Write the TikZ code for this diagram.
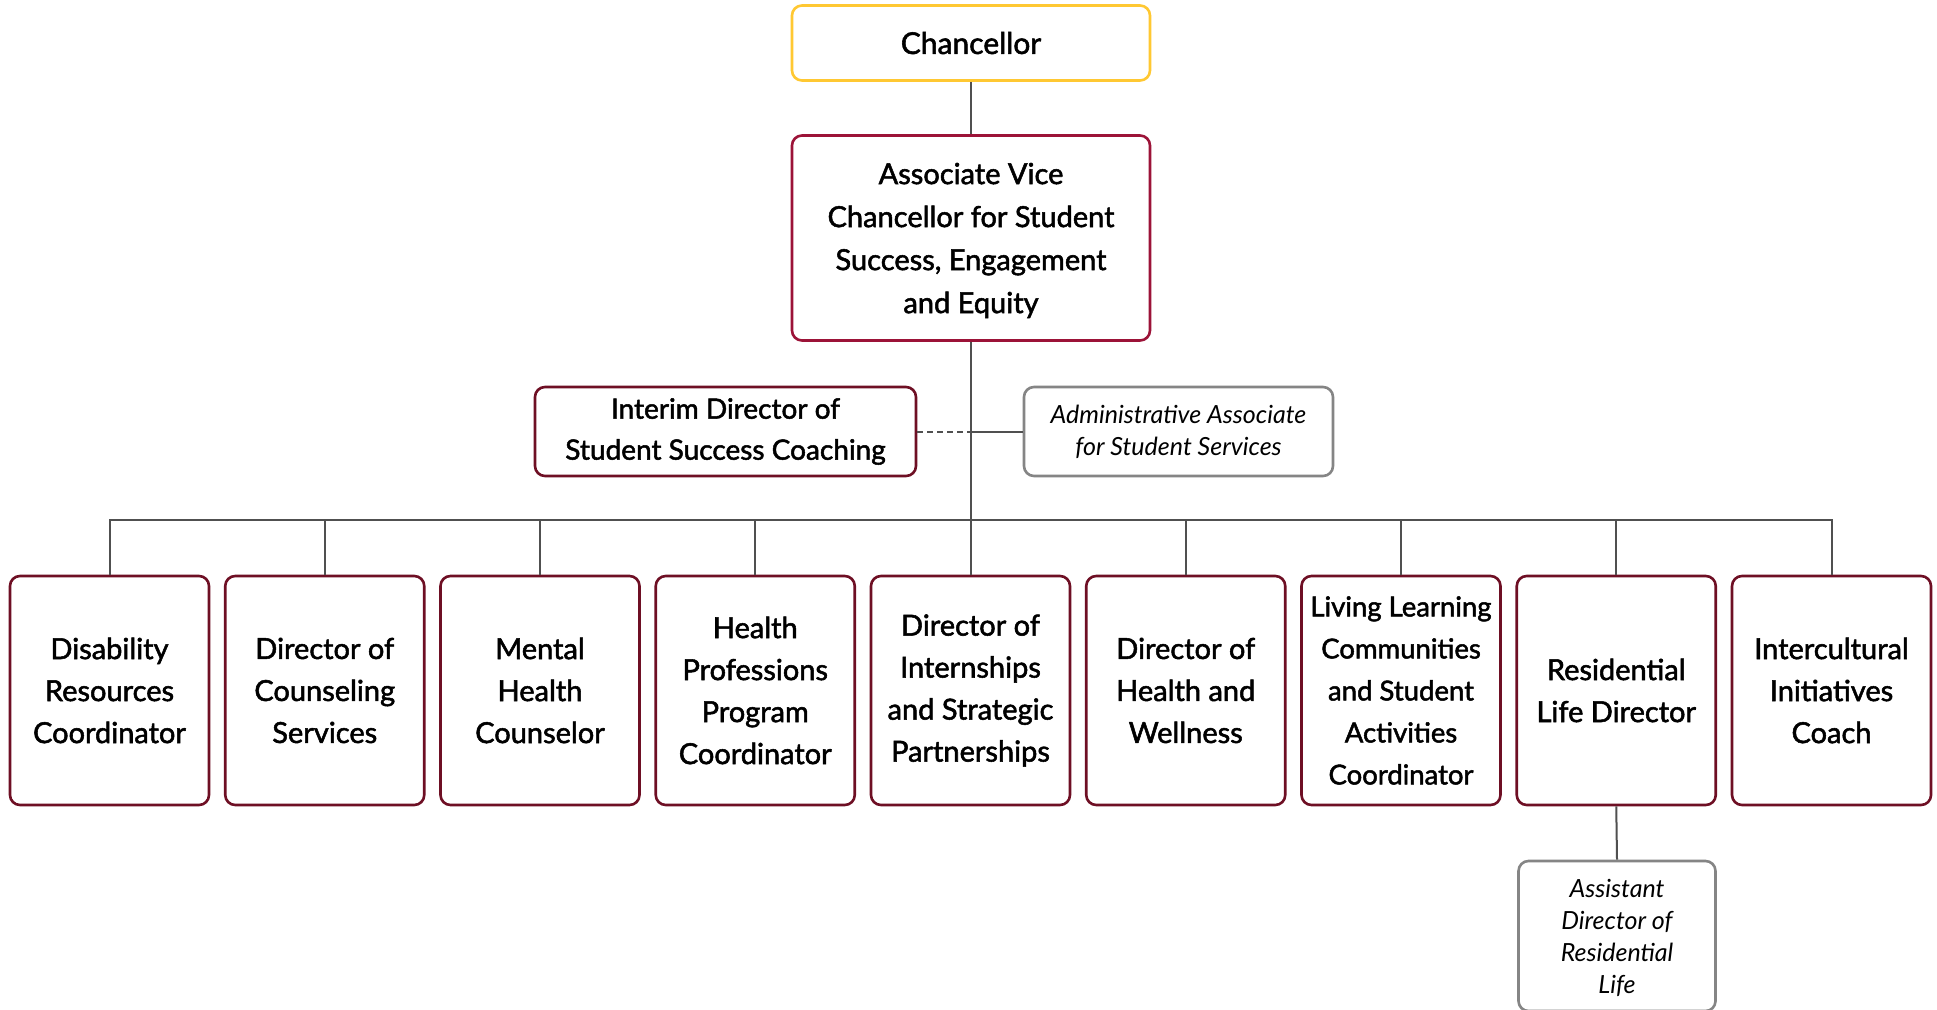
\documentclass[tikz,border=0pt]{standalone}
\usepackage{fontspec}
\setmainfont{Lato}
\newfontfamily\boxfont{Lato}[FakeBold=1.8]
\newfontfamily\plainfont{Lato}
\definecolor{gold}{HTML}{FFC832}
\definecolor{avcred}{HTML}{9C1338}
\definecolor{maroon}{HTML}{6E0F24}
\definecolor{boxgray}{HTML}{858585}
\definecolor{linegray}{HTML}{505050}
\tikzset{
  orgbox/.style={draw=maroon, line width=2.6pt, rounded corners=10pt, fill=white,
    align=center, inner sep=0pt, font=\boxfont\fontsize{29}{42}\selectfont},
  topbox/.style={orgbox, draw=gold},
  avcbox/.style={orgbox, draw=avcred},
  staffbox/.style={draw=boxgray, line width=2.6pt, rounded corners=10pt, fill=white,
    align=center, inner sep=0pt, font=\plainfont\itshape\fontsize{25}{32}\selectfont},
  childbox/.style={orgbox, minimum width=199pt, minimum height=229pt},
  conn/.style={draw=linegray, line width=2pt},
  dconn/.style={conn, dash pattern=on 6pt off 4pt}
}
\begin{document}
\begin{tikzpicture}[x=1pt,y=-1pt]
\useasboundingbox (0,0) rectangle (1937,1009);
\fill[white] (0,0) rectangle (1937,1009);

\node[topbox, minimum width=358pt, minimum height=75pt, font=\boxfont\fontsize{30}{42}\selectfont] (chan) at (971,43) {Chancellor};
\node[avcbox, minimum width=358pt, minimum height=205pt, font=\boxfont\fontsize{29}{43}\selectfont, text depth=0pt] (avc) at (971,238)
  {Associate Vice\\Chancellor for Student\\Success, Engagement\\and Equity};
\node[orgbox, minimum width=381pt, minimum height=89pt, font=\boxfont\fontsize{28}{41}\selectfont] (interim) at (725.5,431.5)
  {Interim Director of\\Student Success Coaching};
\node[staffbox, minimum width=309pt, minimum height=89pt] (admin) at (1178.5,431.5)
  {Administrative Associate\\for Student Services};

\node[childbox] (c1) at (109.5,690.5) {Disability\\Resources\\Coordinator};
\node[childbox] (c2) at (324.75,690.5) {Director of\\Counseling\\Services};
\node[childbox] (c3) at (540,690.5) {Mental\\Health\\Counselor};
\node[childbox] (c4) at (755.25,690.5) {Health\\Professions\\Program\\Coordinator};
\node[childbox] (c5) at (970.5,690.5) {Director of\\Internships\\and Strategic\\Partnerships};
\node[childbox] (c6) at (1185.75,690.5) {Director of\\Health and\\Wellness};
\node[childbox, font=\boxfont\fontsize{27.5}{42}\selectfont] (c7) at (1401,690.5) {Living Learning\\Communities\\and Student\\Activities\\Coordinator};
\node[childbox] (c8) at (1616.25,690.5) {Residential\\Life Director};
\node[childbox] (c9) at (1831.5,690.5) {Intercultural\\Initiatives\\Coach};

\node[staffbox, minimum width=197pt, minimum height=150pt, text depth=0pt] (asst) at (1617,936)
  {Assistant\\Director of\\Residential\\Life};

\coordinate (mid) at (971,431.5);
\coordinate (hub) at (971,520);

\draw[conn] (chan.south) -- (avc.north);
\draw[conn] (avc.south) -- (hub);
\draw[dconn] (interim.east) -- (mid);
\draw[conn] (mid) -- (admin.west);
\foreach \c in {c1,c2,c3,c4,c5,c6,c7,c8,c9}{
  \draw[conn] (hub) -| (\c.north);
}
\draw[conn] (c8.south) -- (asst.north);
\end{tikzpicture}
\end{document}
